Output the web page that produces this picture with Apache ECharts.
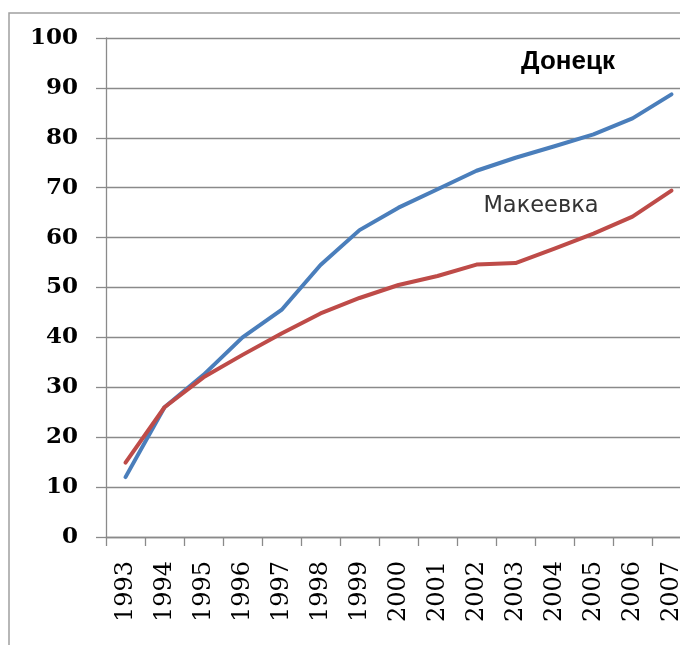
<!DOCTYPE html>
<html>
<head>
<meta charset="utf-8">
<script src="https://cdn.jsdelivr.net/npm/echarts@6/dist/echarts.min.js"></script>
<style>html,body{margin:0;padding:0;background:#fff}#c{width:680px;height:645px}</style>
</head>
<body>
<div id="c"></div>
<script>
const years = ['1993','1994','1995','1996','1997','1998','1999','2000','2001','2002','2003','2004','2005','2006','2007'];
const donetsk = [12, 26, 32.5, 40, 45.5, 54.5, 61.5, 66, 69.7, 73.4, 76, 78.3, 80.7, 83.9, 88.7];
const makeevka = [14.9, 26, 32, 36.5, 40.8, 44.8, 47.9, 50.5, 52.3, 54.6, 54.9, 57.8, 60.8, 64.2, 69.4];
const seriesNames = ['Донецк', 'Макеевка'];

const chart = echarts.init(document.getElementById('c'), null, {renderer: 'canvas'});
const gray = '#8a8a8a';
chart.setOption({
  backgroundColor: '#fff',
  animation: false,
  grid: {left: 106, width: 585, top: 38, height: 499, outerBoundsMode: 'none', containLabel: false},
  xAxis: {
    type: 'category',
    data: years,
    boundaryGap: true,
    axisLine: {lineStyle: {color: gray, width: 1.3}},
    axisTick: {show: true, length: 9, lineStyle: {color: gray, width: 1.3}},
    axisLabel: {rotate: 90, margin: 24, color: '#000', fontFamily: 'DejaVu Serif', fontSize: 24, interval: 0}
  },
  yAxis: {
    type: 'value',
    min: 0, max: 100, interval: 10,
    axisLine: {show: true, lineStyle: {color: gray, width: 1.3}},
    axisTick: {show: true, length: 10, lineStyle: {color: gray, width: 1.3}},
    splitLine: {show: true, lineStyle: {color: gray, width: 1.3}},
    axisLabel: {margin: 28, color: '#000', fontFamily: 'DejaVu Serif', fontWeight: 'bold', fontSize: 23}
  },
  series: [
    {name: seriesNames[0], type: 'line', data: donetsk, symbol: 'none', smooth: false,
     lineStyle: {color: '#4a7ebb', width: 4, cap: 'round', join: 'round'}},
    {name: seriesNames[1], type: 'line', data: makeevka, symbol: 'none', smooth: false,
     lineStyle: {color: '#be4b48', width: 4, cap: 'round', join: 'round'}}
  ],
  graphic: [
    {type: 'rect', shape: {x: 9, y: 13, width: 720, height: 700}, style: {fill: 'none', stroke: '#a0a0a0', lineWidth: 1.5}, silent: true, z: -1},
    {type: 'text', x: 568, y: 62, style: {text: seriesNames[0], fontFamily: 'Liberation Sans', fontWeight: 'bold', fontSize: 26, fill: '#000', align: 'center', verticalAlign: 'middle'}},
    {type: 'text', x: 541, y: 206, style: {text: seriesNames[1], fontFamily: 'DejaVu Sans', fontSize: 22.5, fill: '#333', align: 'center', verticalAlign: 'middle'}}
  ]
});
</script>
</body>
</html>
